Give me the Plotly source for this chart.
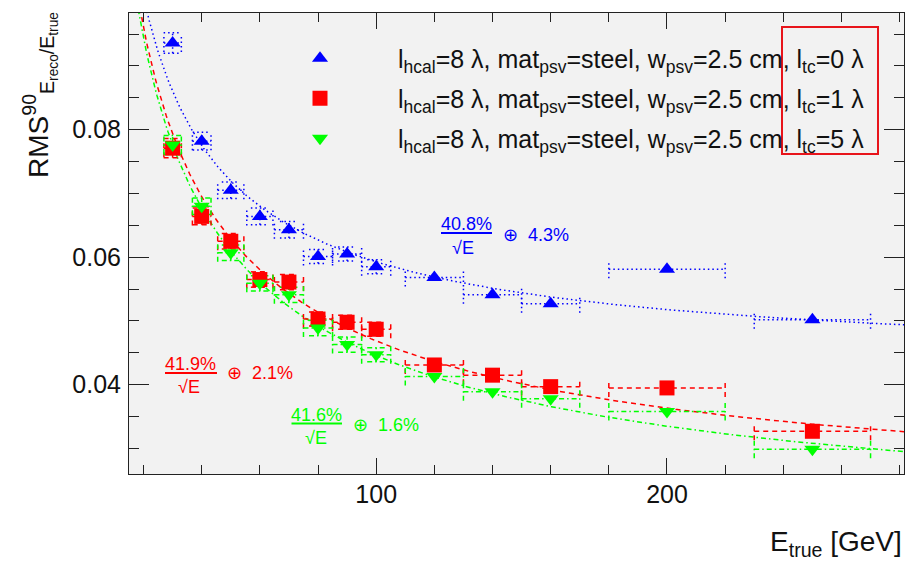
import numpy as np
import plotly.graph_objects as go

# ---------------- data ----------------
energy = [30, 40, 50, 60, 70, 80, 90, 100, 120, 140, 160, 200, 250]
energy_err = [3, 3.2, 4.5, 4.5, 5, 5, 5, 5, 10, 10, 10, 20, 20]

rms_tc0 = [0.0936, 0.0782, 0.0705, 0.0664, 0.0643, 0.0601, 0.0605, 0.0585,
           0.0568, 0.0541, 0.0527, 0.0581, 0.0502]
rms_tc0_err = [0.0016, 0.0014, 0.0013, 0.0013, 0.0013, 0.0011, 0.0011, 0.0011,
               0.0009, 0.0009, 0.0009, 0.0009, 0.0008]
rms_tc1 = [0.0771, 0.0664, 0.0625, 0.0565, 0.0561, 0.0503, 0.0498, 0.0487,
           0.0431, 0.0415, 0.0397, 0.0395, 0.0327]
rms_tc1_err = [0.0015, 0.0013, 0.0012, 0.0012, 0.0012, 0.0011, 0.0011, 0.0011,
               0.0009, 0.0009, 0.0008, 0.0008, 0.0007]
rms_tc5 = [0.0776, 0.0680, 0.0607, 0.0559, 0.0541, 0.0489, 0.0463, 0.0447,
           0.0413, 0.0389, 0.0378, 0.0358, 0.0299]
rms_tc5_err = [0.0015, 0.0013, 0.0012, 0.0012, 0.0012, 0.0012, 0.0012, 0.0011,
               0.0009, 0.0009, 0.0008, 0.0008, 0.0007]

fit_stochastic_pct = [40.8, 41.9, 41.6]
fit_constant_pct = [4.3, 2.1, 1.6]

series_labels = [
    "l<sub>hcal</sub>=8 λ, mat<sub>psv</sub>=steel, w<sub>psv</sub>=2.5 cm, l<sub>tc</sub>=0 λ",
    "l<sub>hcal</sub>=8 λ, mat<sub>psv</sub>=steel, w<sub>psv</sub>=2.5 cm, l<sub>tc</sub>=1 λ",
    "l<sub>hcal</sub>=8 λ, mat<sub>psv</sub>=steel, w<sub>psv</sub>=2.5 cm, l<sub>tc</sub>=5 λ",
]

# ---------------- style ----------------
FONT = "Liberation Sans, Arial, Helvetica, sans-serif"
colors = ["#0000ff", "#ff0000", "#00ff00"]
symbols = ["triangle-up", "square", "triangle-down"]
msizes = [14, 15, 14]
dashes = ["1.5px,3px", "5px,4px", "5px,3px,1.5px,3px"]

X_RANGE = [15, 281.5]
Y_RANGE = [0.026, 0.0983]
W, H = 909, 561
ML, MR, MT, MB = 129, 5, 13, 87
PW, PH = W - ML - MR, H - MT - MB

CAP_X = 9 * (X_RANGE[1] - X_RANGE[0]) / PW   # ~9 px in data units
CAP_Y = 9 * (Y_RANGE[1] - Y_RANGE[0]) / PH
Y_BAR_MIN = 0.00105


def px_x(p):
    return (p - ML) / PW


def px_y(p):
    return (H - MB - p) / PH


def error_path(xs, ys, exs, eys):
    ox, oy = [], []
    for x, y, ex, ey in zip(xs, ys, exs, eys):
        ox += [x - ex, x + ex, None]; oy += [y, y, None]
        ox += [x - ex, x - ex, None]; oy += [y - CAP_Y, y + CAP_Y, None]
        ox += [x + ex, x + ex, None]; oy += [y - CAP_Y, y + CAP_Y, None]
        if ey > Y_BAR_MIN:
            ox += [x, x, None]; oy += [y - ey, y + ey, None]
            ox += [x - CAP_X, x + CAP_X, None]; oy += [y - ey, y - ey, None]
            ox += [x - CAP_X, x + CAP_X, None]; oy += [y + ey, y + ey, None]
    return ox, oy


fig = go.Figure()

values = [rms_tc0, rms_tc1, rms_tc5]
errors = [rms_tc0_err, rms_tc1_err, rms_tc5_err]
legends = ["legend", "legend2", "legend3"]

e_grid = np.linspace(X_RANGE[0], X_RANGE[1], 500)
for i in range(3):
    a = fit_stochastic_pct[i] / 100.0
    c = fit_constant_pct[i] / 100.0
    fig.add_trace(go.Scatter(
        x=e_grid, y=np.sqrt(a ** 2 / e_grid + c ** 2), mode="lines",
        line=dict(color=colors[i], width=1.5, dash=dashes[i]),
        showlegend=False, hoverinfo="skip"))

for i in range(3):
    ex, ey = error_path(energy, values[i], energy_err, errors[i])
    fig.add_trace(go.Scatter(
        x=ex, y=ey, mode="lines",
        line=dict(color=colors[i], width=1.5, dash=dashes[i]),
        showlegend=False, hoverinfo="skip"))

for i in range(3):
    fig.add_trace(go.Scatter(
        x=energy, y=values[i], mode="markers", name=series_labels[i],
        marker=dict(symbol=symbols[i], size=msizes[i], color=colors[i],
                    line=dict(width=0)),
        legend=legends[i]))

axis_common = dict(
    showline=True, linecolor="#222222", linewidth=1, mirror="ticks",
    ticks="inside", tickcolor="#222222", tickwidth=1,
    showgrid=False, zeroline=False,
    tickfont=dict(family=FONT, size=25, color="#111111"),
)

fig.update_xaxes(range=X_RANGE, tick0=0, dtick=100, ticklen=16,
                 minor=dict(dtick=20, ticklen=9, ticks="inside", tickcolor="#222222", showgrid=False),
                 ticklabelstandoff=-2, **axis_common)
fig.update_yaxes(range=Y_RANGE, tick0=0, dtick=0.02, ticklen=20,
                 minor=dict(dtick=0.005, ticklen=10, ticks="inside", tickcolor="#222222", showgrid=False),
                 ticklabelstandoff=2, **axis_common)

legend_rows = [58.5, 98.5, 138.5]
leg_common = dict(xanchor="left", yanchor="middle", bgcolor="rgba(0,0,0,0)",
                  font=dict(family=FONT, size=25, color="#111111"), itemwidth=146,
                  borderwidth=0)
fig.update_layout(
    legend=dict(x=px_x(242), y=px_y(legend_rows[0]), **leg_common),
    legend2=dict(x=px_x(242), y=px_y(legend_rows[1]), **leg_common),
    legend3=dict(x=px_x(242), y=px_y(legend_rows[2]), **leg_common),
)

annotations = []
# axis titles
annotations.append(dict(
    text="E<sub>true</sub> [GeV]", x=1.0, y=px_y(524), xref="paper", yref="paper",
    xanchor="right", yanchor="top", showarrow=False,
    font=dict(family=FONT, size=28, color="#111111")))
annotations.append(dict(
    text="RMS<sup>90</sup><sub>E<sub>reco</sub>/E<sub>true</sub></sub>",
    x=px_x(40), y=px_y(10), xref="paper", yref="paper", textangle=-90,
    xanchor="center", yanchor="top", showarrow=False,
    font=dict(family=FONT, size=28, color="#111111")))

# fit formula labels
formula_pos = [
    (466.7, 224, 441, 492, 233, 463, 248, 501, 235),
    (190.8, 363.5, 165, 217, 373, 189, 386.5, 225, 373),
    (316.7, 415, 291.5, 342, 423.5, 315.5, 437.5, 350.5, 425),
]
shapes = []
for i in range(3):
    nx, ny, bx0, bx1, by, sx, sy, ox, oy = formula_pos[i]
    fnt = dict(family=FONT, size=18, color=colors[i])
    annotations.append(dict(text=f"{fit_stochastic_pct[i]:.1f}%", x=px_x(nx), y=px_y(ny),
                            xref="paper", yref="paper", xanchor="center", yanchor="middle",
                            showarrow=False, font=fnt))
    annotations.append(dict(text="√E", x=px_x(sx), y=px_y(sy),
                            xref="paper", yref="paper", xanchor="center", yanchor="middle",
                            showarrow=False, font=fnt))
    annotations.append(dict(text=f"⊕  {fit_constant_pct[i]:.1f}%", x=px_x(ox), y=px_y(oy),
                            xref="paper", yref="paper", xanchor="left", yanchor="middle",
                            showarrow=False, font=fnt))
    shapes.append(dict(type="line", xref="paper", yref="paper",
                       x0=px_x(bx0), x1=px_x(bx1), y0=px_y(by), y1=px_y(by),
                       line=dict(color=colors[i], width=2)))

# red highlight box
shapes.append(dict(type="rect", xref="paper", yref="paper",
                   x0=px_x(782), x1=px_x(878), y0=px_y(154), y1=px_y(27),
                   line=dict(color="#e8141b", width=2)))

fig.update_layout(
    width=W, height=H,
    margin=dict(l=ML, r=MR, t=MT, b=MB),
    paper_bgcolor="white", plot_bgcolor="#f2f2f2",
    annotations=annotations, shapes=shapes,
    font=dict(family=FONT),
)

fig.write_html("out.html")
